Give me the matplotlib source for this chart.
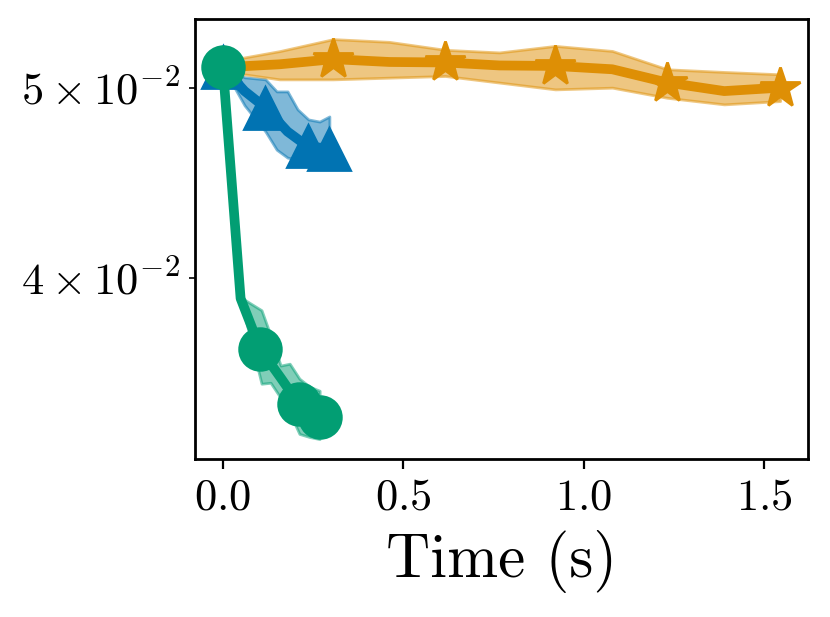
import numpy as np
import matplotlib
matplotlib.use("Agg")
import matplotlib.pyplot as plt

plt.rcParams.update({
    "font.family": "serif",
    "font.serif": ["cmr10"],
    "mathtext.fontset": "cm",
    "axes.unicode_minus": False,
    "axes.formatter.use_mathtext": True,
    "axes.linewidth": 1.0,
})

# colorblind palette
c_blue, c_orange, c_green = "#0173b2", "#de8f05", "#029e73"

# blue (triangles)
blue_t = [0.0, 0.060, 0.118, 0.179, 0.235, 0.295]
blue_y = [0.05122, 0.04980, 0.04884, 0.04749, 0.04667, 0.04655]
blue_band_t = [0.0, 0.060, 0.118, 0.149, 0.179, 0.207, 0.237, 0.268, 0.295]
blue_lo = [0.05122, 0.04897, 0.04749, 0.04649, 0.04606, 0.04595, 0.04584, 0.04595, 0.04606]
blue_hi = [0.05122, 0.05061, 0.05049, 0.04978, 0.04978, 0.04874, 0.04817, 0.04805, 0.04834]

# orange (stars)
orange_t = [0.0, 0.157, 0.306, 0.461, 0.616, 0.766, 0.921, 1.079, 1.231, 1.389, 1.544]
orange_y = [0.05121, 0.05139, 0.05170, 0.05153, 0.05150, 0.05132, 0.05129, 0.05109, 0.05030, 0.04980, 0.05000]
orange_lo = [0.05097, 0.05049, 0.05049, 0.05059, 0.05069, 0.05030, 0.04990, 0.05000, 0.04941, 0.04903, 0.04922]
orange_hi = [0.05157, 0.05219, 0.05293, 0.05276, 0.05227, 0.05211, 0.05251, 0.05220, 0.05109, 0.05093, 0.05079]

# green (circles)
green_t = [0.0, 0.049, 0.104, 0.160, 0.210, 0.268]
green_y = [0.05121, 0.03905, 0.03678, 0.03558, 0.03451, 0.03398]
green_band_t = [0.049, 0.107, 0.132, 0.160, 0.185, 0.212, 0.240, 0.268]
green_lo = [0.03901, 0.03533, 0.03537, 0.03475, 0.03415, 0.03331, 0.03319, 0.03311]
green_hi = [0.03910, 0.03851, 0.03739, 0.03609, 0.03617, 0.03554, 0.03521, 0.03504]

fig, ax = plt.subplots(figsize=(4.15, 3.085), dpi=200)
fig.subplots_adjust(left=0.235, right=0.9735, top=0.969, bottom=0.256)

ax.plot(blue_t, blue_y, color=c_blue, lw=3.5, marker="^", ms=15, markevery=[0, 2, 4, 5])
ax.fill_between(blue_band_t, blue_lo, blue_hi, color=c_blue, alpha=0.5)

ax.plot(orange_t, orange_y, color=c_orange, lw=3.5, marker="*", ms=15, markevery=2)
ax.fill_between(orange_t, orange_lo, orange_hi, color=c_orange, alpha=0.5)

ax.plot(green_t, green_y, color=c_green, lw=3.5, marker="o", ms=15, markevery=[0, 2, 4, 5])
ax.fill_between(green_band_t, green_lo, green_hi, color=c_green, alpha=0.5)

ax.set_yscale("log")
ax.set_xticks([0.0, 0.5, 1.0, 1.5])
ax.tick_params(axis="both", which="both", labelsize=16)
ax.set_xlabel("Time (s)", fontsize=22)

fig.savefig("out.png", dpi=200)
